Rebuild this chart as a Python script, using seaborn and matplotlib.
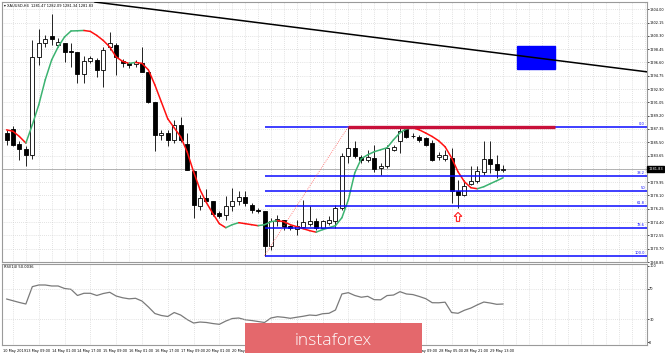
import numpy as np
import matplotlib
matplotlib.use('Agg')
import matplotlib.pyplot as plt
import matplotlib.transforms as mtransforms
from matplotlib.patches import Rectangle, Polygon
import seaborn as sns

sns.set_style('white')
plt.rcParams['font.family'] = ['DejaVu Sans']

# XAUUSD H4 candles
opens = [1286.86, 1287.33, 1285.29, 1284.60, 1283.67, 1297.42, 1299.32, 1300.29, 1299.04, 1299.36,
         1298.25, 1298.11, 1295.01, 1296.86, 1296.96, 1295.57, 1298.80, 1299.04, 1296.86, 1296.50,
         1296.40, 1296.58, 1295.33, 1291.16, 1286.54, 1286.86, 1285.85, 1287.93, 1285.29, 1281.44,
         1276.68, 1277.79, 1277.28, 1275.71, 1275.43, 1276.68, 1277.28, 1277.89, 1276.82, 1276.03,
         1275.89, 1271.03, 1274.50, 1274.73, 1273.80, 1273.44, 1273.72, 1274.18, 1274.50, 1273.58,
         1274.28, 1274.50, 1276.36, 1283.53, 1284.69, 1283.44, 1283.07, 1283.30, 1281.92, 1282.14,
         1284.46, 1285.61, 1287.33, 1286.40, 1286.30, 1286.08, 1285.39, 1283.44, 1283.17, 1283.30,
         1278.67, 1278.21, 1279.69, 1280.05, 1281.30, 1283.17, 1282.47, 1281.68]
highs = [1287.23, 1287.79, 1285.61, 1284.92, 1299.73, 1301.26, 1300.43, 1303.35, 1300.01, 1299.36,
         1299.32, 1298.11, 1297.51, 1297.51, 1297.23, 1298.80, 1300.89, 1299.32, 1297.10, 1296.72,
         1296.96, 1298.80, 1295.33, 1291.16, 1287.23, 1287.23, 1288.62, 1289.04, 1286.78, 1281.68,
         1278.21, 1279.04, 1277.28, 1275.99, 1277.97, 1279.18, 1278.67, 1278.67, 1277.05, 1276.36,
         1275.89, 1275.01, 1275.43, 1274.73, 1274.04, 1274.73, 1277.51, 1276.58, 1274.97, 1274.73,
         1275.20, 1276.82, 1284.00, 1287.69, 1285.61, 1283.76, 1284.46, 1285.15, 1282.61, 1285.15,
         1285.15, 1287.47, 1287.61, 1286.78, 1286.54, 1286.30, 1285.85, 1284.18, 1284.46, 1284.69,
         1280.29, 1280.29, 1282.14, 1282.14, 1285.61, 1285.61, 1283.76, 1282.37]
lows = [1285.15, 1285.01, 1283.07, 1282.14, 1283.21, 1296.26, 1298.76, 1299.04, 1298.76, 1296.72,
        1296.03, 1293.72, 1293.76, 1296.54, 1294.64, 1293.16, 1298.35, 1294.87, 1295.98, 1295.85,
        1296.03, 1295.33, 1290.94, 1284.22, 1285.85, 1285.01, 1285.39, 1285.57, 1281.68, 1274.97,
        1276.03, 1277.14, 1275.20, 1275.01, 1274.73, 1275.89, 1276.82, 1276.68, 1275.67, 1275.67,
        1269.73, 1270.57, 1273.80, 1273.35, 1273.35, 1272.65, 1273.58, 1273.80, 1273.35, 1273.48,
        1274.04, 1273.58, 1276.12, 1282.61, 1283.35, 1282.61, 1282.79, 1281.40, 1280.99, 1281.92,
        1284.22, 1284.00, 1286.08, 1286.08, 1285.57, 1284.92, 1282.83, 1283.07, 1282.83, 1277.05,
        1276.36, 1277.97, 1279.60, 1279.83, 1280.99, 1281.22, 1280.53, 1281.40]
closes = [1285.85, 1285.15, 1284.60, 1283.67, 1297.42, 1299.36, 1299.87, 1299.87, 1299.50, 1298.11,
          1298.07, 1295.01, 1296.86, 1297.23, 1295.57, 1298.35, 1299.32, 1297.42, 1296.50, 1296.26,
          1296.64, 1295.33, 1291.16, 1286.54, 1286.82, 1285.85, 1287.93, 1285.85, 1281.68, 1276.82,
          1277.79, 1277.28, 1275.57, 1275.20, 1276.58, 1277.28, 1277.83, 1277.05, 1276.03, 1275.98,
          1271.03, 1274.50, 1274.87, 1273.72, 1273.53, 1273.80, 1274.42, 1274.50, 1273.58, 1274.50,
          1274.73, 1276.36, 1283.53, 1284.69, 1283.53, 1282.97, 1283.49, 1281.78, 1282.14, 1284.69,
          1284.83, 1287.00, 1286.30, 1286.38, 1285.75, 1285.15, 1283.07, 1283.76, 1283.76, 1278.67,
          1278.21, 1279.46, 1280.05, 1281.44, 1283.17, 1282.47, 1281.68, 1281.83]

# moving average overlay (green rising / red falling)
ma_values = [1287.23, 1287.03, 1286.30, 1285.39, 1287.93, 1290.71, 1294.18, 1296.96, 1298.76, 1300.15,
             1300.98, 1301.01, 1301.05, 1300.92, 1300.36, 1299.66, 1298.76, 1297.37, 1296.75, 1296.47,
             1296.61, 1296.47, 1295.57, 1293.48, 1291.12, 1288.76, 1287.51, 1286.26, 1284.18, 1281.40,
             1278.90, 1277.10, 1275.57, 1274.18, 1273.62, 1274.04, 1274.32, 1274.18, 1274.04, 1273.90,
             1274.04, 1274.46, 1274.60, 1274.46, 1274.04, 1273.76, 1273.48, 1273.21, 1273.00, 1273.35,
             1273.62, 1273.90, 1275.01, 1277.51, 1281.26, 1283.21, 1283.76, 1284.18, 1284.46, 1284.74,
             1285.85, 1286.82, 1287.37, 1287.51, 1287.23, 1286.78, 1286.30, 1285.71, 1284.87, 1283.35,
             1281.40, 1280.01, 1279.18, 1279.04, 1279.32, 1279.74, 1280.15, 1280.57]

rsi_values = [56.6, 54.3, 52.0, 50.0, 72.8, 75.0, 75.0, 73.7, 73.7, 70.4,
              69.3, 61.2, 64.1, 64.1, 61.2, 63.8, 65.4, 60.5, 58.2, 56.8,
              57.5, 53.9, 46.1, 37.5, 34.9, 33.6, 38.8, 35.5, 29.6, 25.0,
              26.3, 25.7, 24.3, 23.3, 27.6, 30.9, 31.6, 29.3, 28.3, 27.0,
              25.7, 31.6, 33.3, 32.5, 31.2, 32.6, 33.9, 35.5, 34.9, 37.2,
              37.8, 42.1, 63.2, 64.9, 61.2, 58.9, 60.1, 55.7, 55.5, 61.1,
              61.8, 66.2, 63.2, 62.4, 59.9, 57.0, 51.7, 51.6, 52.4, 38.8,
              37.8, 41.8, 44.7, 48.9, 52.6, 51.3, 49.6, 50.0]

price_labels = ['1268.85', '1270.70', '1272.55', '1274.40', '1276.25', '1278.10', '1279.95',
                '1281.80', '1283.65', '1285.50', '1287.35', '1289.20', '1291.05', '1292.90',
                '1294.75', '1296.60', '1298.45', '1300.30', '1302.15', '1304.00']
time_labels = ['10 May 2019', '13 May 09:00', '14 May 01:00', '14 May 17:00', '15 May 09:00',
               '16 May 01:00', '16 May 17:00', '17 May 09:00', '20 May 01:00', '20 May 17:00',
               '21 May 09:00', '22 May 01:00', '22 May 17:00', '23 May 09:00', '24 May 01:00',
               '24 May 17:00', '27 May 09:00', '28 May 05:00', '28 May 21:00', '29 May 13:00']
label_bars = [-0.6, 3, 7, 11, 15, 19, 23, 27, 31, 35, 39, 43, 47, 51, 55, 59, 63, 67, 71, 75]

fib_ratios = [0.0, 38.2, 50.0, 61.8, 78.6, 100.0]
fib_texts = ['0.0', '38.2', '50', '61.8', '78.6', '100.0']
fib_low_bar, fib_high_bar = 40, 53
resistance_bars = [53, 85]
target_box_bars = [79.1, 85.0]
target_box_prices = [1295.67, 1298.90]
trend_bars = [12, 99]
trend_prices = [1305.20, 1295.33]
arrow_bar, arrow_tip = 70, 1275.75
last_price = 1281.83
rsi_ticks = [0, 30, 70, 100]
rsi_levels = [30, 70]

n = len(opens)
bars = np.arange(n)
o, h, l, c = map(np.array, (opens, highs, lows, closes))

fig = plt.figure(figsize=(6.65, 3.54), dpi=100)
ax = fig.add_axes([2 / 665, 92 / 354, 645 / 665, 260 / 354])
ax2 = fig.add_axes([2 / 665, 9 / 354, 645 / 665, 81 / 354])

grid_kw = dict(color='#c8c8c8', linestyle=(0, (1, 2)), linewidth=0.5)
odd_bars = np.arange(1, 100, 2)

for a in (ax, ax2):
    a.set_xlim(-0.7, 99.3)
    a.set_facecolor('white')
    for s in a.spines.values():
        s.set_color('#9a9a9a')
        s.set_linewidth(0.8)
    a.set_xticks(odd_bars, minor=True)
    a.grid(which='minor', axis='x', **grid_kw)
    a.set_axisbelow(True)
    a.yaxis.set_ticks_position('right')
    a.tick_params(axis='y', which='major', length=1.2, width=0.5, pad=0.4, labelsize=2.55,
                  colors='black')

# ---- price panel ----
ax.set_ylim(1268.90, 1305.01)
ax.set_yticks([float(p) for p in price_labels])
# the 1281.80 label sits under the current-price box
ax.set_yticklabels(['' if p == f'{last_price:.2f}'[:-1] + '0' else p for p in price_labels])
ax.grid(which='major', axis='y', **grid_kw)
ax.set_xticks([])
ax.tick_params(axis='x', which='both', length=0)

ax.axhline(last_price, color='#a8a8a8', linewidth=0.6, zorder=1)

# candles
ax.vlines(bars, l, h, color='black', linewidth=0.6, zorder=3)
body_low = np.minimum(o, c)
body_h = np.maximum(np.abs(c - o), 0.06)
face = np.where(c >= o, 'white', 'black')
ax.bar(bars, body_h, bottom=body_low, width=0.62, color=face, edgecolor='black',
       linewidth=0.6, zorder=4)

# moving average coloured by direction
ma = np.array(ma_values)
for i in range(1, n):
    col = '#3cb371' if ma[i] > ma[i - 1] else '#ff1010'
    ax.plot(bars[i - 1:i + 1], ma[i - 1:i + 1], color=col, linewidth=1.1, zorder=5,
            solid_capstyle='round')

# fibonacci retracement
fib_high, fib_low = highs[fib_high_bar], lows[fib_low_bar]
fib_prices = [fib_high - r / 100 * (fib_high - fib_low) for r in fib_ratios]
ax.hlines(fib_prices, fib_low_bar, 99.3, color='#0a0aff', linewidth=1.1, zorder=6)
ax.plot([fib_low_bar, fib_high_bar], [fib_low, fib_high], color='#ff6060',
        linestyle=(0, (1, 1.5)), linewidth=0.6, zorder=6)
blend = mtransforms.blended_transform_factory(ax.transAxes, ax.transData)
for p, t in zip(fib_prices, fib_texts):
    ax.text(0.997, p + 0.12, t, transform=blend, ha='right', va='bottom', fontsize=2.6,
            color='#0a0aff', zorder=7)

# resistance, target box, trend line
ax.hlines(fib_high, resistance_bars[0], resistance_bars[1], color='#c8103a', linewidth=2.4,
          zorder=7)
ax.add_patch(Rectangle((target_box_bars[0], target_box_prices[0]),
                       target_box_bars[1] - target_box_bars[0],
                       target_box_prices[1] - target_box_prices[0],
                       facecolor='#0000ff', edgecolor='#0000ff', zorder=6))
ax.axline((trend_bars[0], trend_prices[0]), (trend_bars[1], trend_prices[1]),
          color='black', linewidth=1.1, zorder=8)

# hollow up arrow under the swing low
aw, sw, hh, ln = 0.6, 0.25, 0.55, 1.25
arrow_pts = [(arrow_bar, arrow_tip), (arrow_bar + aw, arrow_tip - hh),
             (arrow_bar + sw, arrow_tip - hh), (arrow_bar + sw, arrow_tip - ln),
             (arrow_bar - sw, arrow_tip - ln), (arrow_bar - sw, arrow_tip - hh),
             (arrow_bar - aw, arrow_tip - hh)]
ax.add_patch(Polygon(arrow_pts, closed=True, facecolor='white', edgecolor='#ff2020',
                     linewidth=0.8, zorder=8))

ax.text(0.003, 0.992, '\u25be XAUUSD,H4  1281.47 1282.09 1281.34 1281.83',
        transform=ax.transAxes, ha='left', va='top', fontsize=2.6, color='black')
ax.text(1.002, last_price, f'{last_price:.2f}', transform=blend, ha='left', va='center',
        fontsize=2.55, color='white', clip_on=False, zorder=10,
        bbox=dict(facecolor='black', edgecolor='black', pad=0.6))

# ---- RSI panel ----
sns.lineplot(x=bars, y=rsi_values, ax=ax2, color='#7a7a7a', linewidth=0.9)
ax2.set_ylim(-3.9, 102.6)
ax2.set_yticks(rsi_ticks)
ax2.set_yticklabels([str(t) for t in rsi_ticks])
for lv in rsi_levels:
    ax2.axhline(lv, **grid_kw)
ax2.set_xticks(label_bars)
ax2.set_xticklabels(time_labels, ha='left', fontsize=2.5)
ax2.tick_params(axis='x', which='major', length=2, width=0.5, pad=1.2, colors='black')
ax2.tick_params(axis='x', which='minor', length=0)
ax2.set_xlabel('')
ax2.set_ylabel('')
ax2.text(0.003, 0.985, 'RSI(14) 50.0036', transform=ax2.transAxes, ha='left', va='top',
         fontsize=2.6, color='black')

# watermark logo
fig.patches.append(Rectangle((245 / 665, 1 / 354), 177 / 665, 30 / 354,
                             transform=fig.transFigure, facecolor='#e4686c',
                             edgecolor='none', zorder=20))
fig.text(333 / 665, 9 / 354, 'instaforex', color='white', fontsize=12.5,
         family=['Open Sans', 'DejaVu Sans'], fontweight='light', ha='center',
         va='baseline', zorder=21)

fig.savefig('out.png', dpi=100, facecolor='white')
